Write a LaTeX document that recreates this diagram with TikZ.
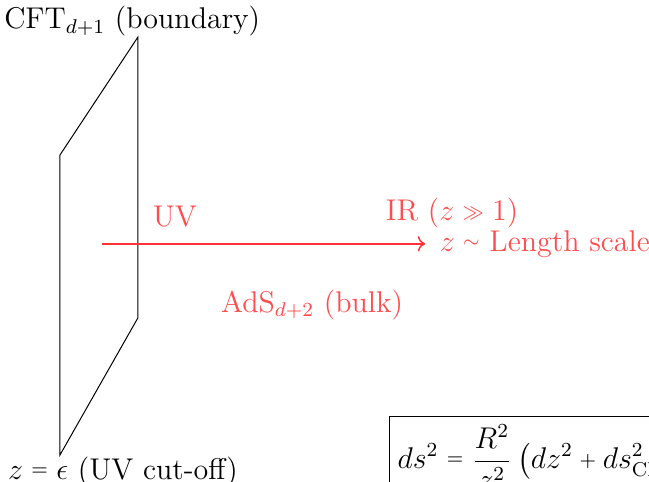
\documentclass[12pt,tikz,border=0pt]{standalone}
\usepackage{amsmath}
\usetikzlibrary{arrows.meta,positioning,calc}
\newcommand{\smallrel}[1]{\mathrel{\vcenter{\hbox{$\scriptstyle#1$}}}}
\newcommand{\smallbin}[1]{\mathbin{\vcenter{\hbox{$\scriptstyle#1$}}}}

\begin{document}
\begin{tikzpicture}[
  lab/.style={text=red!70, align=center},
  flow/.style={->, draw=red!80, line width=0.6pt},
  plane/.style={draw, line width=0.4pt}
]
\useasboundingbox (0,0) rectangle (9.13,6.78);
% boundary plane
\coordinate (bl) at (0.844,0.38);
\coordinate (tl) at (0.844,4.60);
\coordinate (tr) at (1.941,6.26);
\coordinate (br) at (1.941,2.31);
\draw[plane] (bl) -- (tl) -- (tr) -- (br) -- cycle;
\node (cft) at (1.86,6.48) {CFT$_{d+1}$ (boundary)};
\node (cutoff) at (1.73,0.14) {$z\smallrel{=}\epsilon$ (UV cut-off)};

% radial direction
\coordinate (uv) at (1.435,3.35);
\coordinate (ir) at (5.98,3.35);
\draw[flow] (uv) -- (ir);
\node[lab, anchor=west, right=0.06cm of ir] (zaxis) {$z\smallrel{\sim}$ Length scale};
\node[lab] (uvlab) at (2.46,3.74) {UV};
\node[lab] (irlab) at (6.36,3.78) {IR ($z\smallrel{\gg} 1$)};
\node[lab] (bulk) at (4.39,2.49) {AdS$_{d+2}$ (bulk)};

\node[draw, anchor=north west, inner sep=3.3pt, line width=0.4pt] (metric) at (5.47,0.93)
  {$\displaystyle ds^2\smallrel{=}\frac{R^2}{z^2}\left(dz^2\smallbin{+}ds^2_{\mathrm{CFT}}\right)$};
\end{tikzpicture}
\end{document}
